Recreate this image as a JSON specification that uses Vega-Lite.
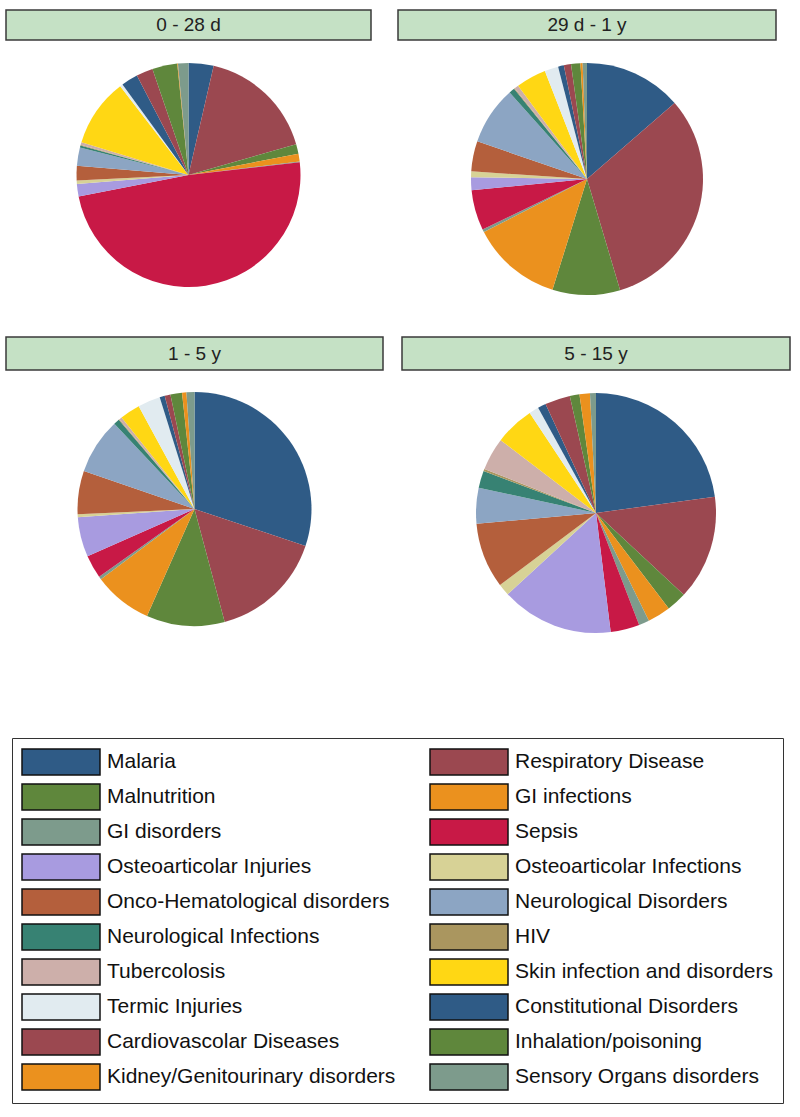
{
  "$schema": "https://vega.github.io/schema/vega-lite/v6.json",
  "background": "white",
  "padding": {"left": 5, "top": 9, "right": 0, "bottom": 0},
  "datasets": {
    "pie": [
      {"age": "0 - 28 d", "cause": "Malaria", "idx": 1, "pct": 3.6},
      {"age": "0 - 28 d", "cause": "Respiratory Disease", "idx": 2, "pct": 16.9},
      {"age": "0 - 28 d", "cause": "Malnutrition", "idx": 3, "pct": 1.4},
      {"age": "0 - 28 d", "cause": "GI infections", "idx": 4, "pct": 1.1},
      {"age": "0 - 28 d", "cause": "GI disorders", "idx": 5, "pct": 0.1},
      {"age": "0 - 28 d", "cause": "Sepsis", "idx": 6, "pct": 48.6},
      {"age": "0 - 28 d", "cause": "Osteoarticolar Injuries", "idx": 7, "pct": 1.8},
      {"age": "0 - 28 d", "cause": "Osteoarticolar Infections", "idx": 8, "pct": 0.5},
      {"age": "0 - 28 d", "cause": "Onco-Hematological disorders", "idx": 9, "pct": 2.1},
      {"age": "0 - 28 d", "cause": "Neurological Disorders", "idx": 10, "pct": 2.6},
      {"age": "0 - 28 d", "cause": "Neurological Infections", "idx": 11, "pct": 0.3},
      {"age": "0 - 28 d", "cause": "HIV", "idx": 12, "pct": 0.1},
      {"age": "0 - 28 d", "cause": "Tubercolosis", "idx": 13, "pct": 0.4},
      {"age": "0 - 28 d", "cause": "Skin infection and disorders", "idx": 14, "pct": 9.8},
      {"age": "0 - 28 d", "cause": "Termic Injuries", "idx": 15, "pct": 0.4},
      {"age": "0 - 28 d", "cause": "Constitutional Disorders", "idx": 16, "pct": 2.4},
      {"age": "0 - 28 d", "cause": "Cardiovascolar Diseases", "idx": 17, "pct": 2.4},
      {"age": "0 - 28 d", "cause": "Inhalation/poisoning", "idx": 18, "pct": 3.6},
      {"age": "0 - 28 d", "cause": "Kidney/Genitourinary disorders", "idx": 19, "pct": 0.1},
      {"age": "0 - 28 d", "cause": "Sensory Organs disorders", "idx": 20, "pct": 1.5},

      {"age": "29 d - 1 y", "cause": "Malaria", "idx": 1, "pct": 13.6},
      {"age": "29 d - 1 y", "cause": "Respiratory Disease", "idx": 2, "pct": 31.7},
      {"age": "29 d - 1 y", "cause": "Malnutrition", "idx": 3, "pct": 9.4},
      {"age": "29 d - 1 y", "cause": "GI infections", "idx": 4, "pct": 12.6},
      {"age": "29 d - 1 y", "cause": "GI disorders", "idx": 5, "pct": 0.4},
      {"age": "29 d - 1 y", "cause": "Sepsis", "idx": 6, "pct": 5.6},
      {"age": "29 d - 1 y", "cause": "Osteoarticolar Injuries", "idx": 7, "pct": 1.8},
      {"age": "29 d - 1 y", "cause": "Osteoarticolar Infections", "idx": 8, "pct": 0.8},
      {"age": "29 d - 1 y", "cause": "Onco-Hematological disorders", "idx": 9, "pct": 4.2},
      {"age": "29 d - 1 y", "cause": "Neurological Disorders", "idx": 10, "pct": 8.1},
      {"age": "29 d - 1 y", "cause": "Neurological Infections", "idx": 11, "pct": 0.8},
      {"age": "29 d - 1 y", "cause": "HIV", "idx": 12, "pct": 0.1},
      {"age": "29 d - 1 y", "cause": "Tubercolosis", "idx": 13, "pct": 0.6},
      {"age": "29 d - 1 y", "cause": "Skin infection and disorders", "idx": 14, "pct": 4.2},
      {"age": "29 d - 1 y", "cause": "Termic Injuries", "idx": 15, "pct": 1.9},
      {"age": "29 d - 1 y", "cause": "Constitutional Disorders", "idx": 16, "pct": 0.8},
      {"age": "29 d - 1 y", "cause": "Cardiovascolar Diseases", "idx": 17, "pct": 1.0},
      {"age": "29 d - 1 y", "cause": "Inhalation/poisoning", "idx": 18, "pct": 1.3},
      {"age": "29 d - 1 y", "cause": "Kidney/Genitourinary disorders", "idx": 19, "pct": 0.3},
      {"age": "29 d - 1 y", "cause": "Sensory Organs disorders", "idx": 20, "pct": 0.6},

      {"age": "1 - 5 y", "cause": "Malaria", "idx": 1, "pct": 30.1},
      {"age": "1 - 5 y", "cause": "Respiratory Disease", "idx": 2, "pct": 15.7},
      {"age": "1 - 5 y", "cause": "Malnutrition", "idx": 3, "pct": 10.8},
      {"age": "1 - 5 y", "cause": "GI infections", "idx": 4, "pct": 8.1},
      {"age": "1 - 5 y", "cause": "GI disorders", "idx": 5, "pct": 0.4},
      {"age": "1 - 5 y", "cause": "Sepsis", "idx": 6, "pct": 3.2},
      {"age": "1 - 5 y", "cause": "Osteoarticolar Injuries", "idx": 7, "pct": 5.5},
      {"age": "1 - 5 y", "cause": "Osteoarticolar Infections", "idx": 8, "pct": 0.4},
      {"age": "1 - 5 y", "cause": "Onco-Hematological disorders", "idx": 9, "pct": 6.0},
      {"age": "1 - 5 y", "cause": "Neurological Disorders", "idx": 10, "pct": 7.7},
      {"age": "1 - 5 y", "cause": "Neurological Infections", "idx": 11, "pct": 0.8},
      {"age": "1 - 5 y", "cause": "HIV", "idx": 12, "pct": 0.1},
      {"age": "1 - 5 y", "cause": "Tubercolosis", "idx": 13, "pct": 0.4},
      {"age": "1 - 5 y", "cause": "Skin infection and disorders", "idx": 14, "pct": 2.8},
      {"age": "1 - 5 y", "cause": "Termic Injuries", "idx": 15, "pct": 3.1},
      {"age": "1 - 5 y", "cause": "Constitutional Disorders", "idx": 16, "pct": 0.7},
      {"age": "1 - 5 y", "cause": "Cardiovascolar Diseases", "idx": 17, "pct": 0.8},
      {"age": "1 - 5 y", "cause": "Inhalation/poisoning", "idx": 18, "pct": 1.6},
      {"age": "1 - 5 y", "cause": "Kidney/Genitourinary disorders", "idx": 19, "pct": 0.6},
      {"age": "1 - 5 y", "cause": "Sensory Organs disorders", "idx": 20, "pct": 1.1},

      {"age": "5 - 15 y", "cause": "Malaria", "idx": 1, "pct": 22.8},
      {"age": "5 - 15 y", "cause": "Respiratory Disease", "idx": 2, "pct": 14.1},
      {"age": "5 - 15 y", "cause": "Malnutrition", "idx": 3, "pct": 2.7},
      {"age": "5 - 15 y", "cause": "GI infections", "idx": 4, "pct": 3.1},
      {"age": "5 - 15 y", "cause": "GI disorders", "idx": 5, "pct": 1.4},
      {"age": "5 - 15 y", "cause": "Sepsis", "idx": 6, "pct": 3.9},
      {"age": "5 - 15 y", "cause": "Osteoarticolar Injuries", "idx": 7, "pct": 15.1},
      {"age": "5 - 15 y", "cause": "Osteoarticolar Infections", "idx": 8, "pct": 1.6},
      {"age": "5 - 15 y", "cause": "Onco-Hematological disorders", "idx": 9, "pct": 8.8},
      {"age": "5 - 15 y", "cause": "Neurological Disorders", "idx": 10, "pct": 4.8},
      {"age": "5 - 15 y", "cause": "Neurological Infections", "idx": 11, "pct": 2.3},
      {"age": "5 - 15 y", "cause": "HIV", "idx": 12, "pct": 0.3},
      {"age": "5 - 15 y", "cause": "Tubercolosis", "idx": 13, "pct": 4.4},
      {"age": "5 - 15 y", "cause": "Skin infection and disorders", "idx": 14, "pct": 5.3},
      {"age": "5 - 15 y", "cause": "Termic Injuries", "idx": 15, "pct": 1.3},
      {"age": "5 - 15 y", "cause": "Constitutional Disorders", "idx": 16, "pct": 1.1},
      {"age": "5 - 15 y", "cause": "Cardiovascolar Diseases", "idx": 17, "pct": 3.4},
      {"age": "5 - 15 y", "cause": "Inhalation/poisoning", "idx": 18, "pct": 1.3},
      {"age": "5 - 15 y", "cause": "Kidney/Genitourinary disorders", "idx": 19, "pct": 1.4},
      {"age": "5 - 15 y", "cause": "Sensory Organs disorders", "idx": 20, "pct": 0.8}
    ]
  },
  "spacing": 19,
  "vconcat": [
    {
      "spacing": 25,
      "hconcat": [
        {
          "spacing": 0,
          "vconcat": [
            {
              "width": 365, "height": 30,
              "view": {"fill": "#C5E1C5", "stroke": "#3a3a3a", "strokeWidth": 1.5},
              "data": {"values": [{"label": "0 - 28 d"}]},
              "mark": {"type": "text", "font": "Liberation Sans", "fontSize": 19, "color": "#222"},
              "encoding": {"text": {"field": "label"}}
            },
            {
              "width": 365, "height": 268,
              "data": {"name": "pie"},
              "transform": [{"filter": "datum.age === '0 - 28 d'"}],
              "mark": {"type": "arc", "outerRadius": 112},
              "encoding": {
                "theta": {"field": "pct", "type": "quantitative", "stack": true},
                "order": {"field": "idx", "type": "quantitative"},
                "color": {"field": "cause", "type": "nominal"}
              }
            }
          ]
        },
        {
          "spacing": 0,
          "vconcat": [
            {
              "width": 378, "height": 30,
              "view": {"fill": "#C5E1C5", "stroke": "#3a3a3a", "strokeWidth": 1.5},
              "data": {"values": [{"label": "29 d - 1 y"}]},
              "mark": {"type": "text", "font": "Liberation Sans", "fontSize": 19, "color": "#222"},
              "encoding": {"text": {"field": "label"}}
            },
            {
              "width": 378, "height": 276,
              "data": {"name": "pie"},
              "transform": [{"filter": "datum.age === '29 d - 1 y'"}],
              "mark": {"type": "arc", "outerRadius": 116},
              "encoding": {
                "theta": {"field": "pct", "type": "quantitative", "stack": true},
                "order": {"field": "idx", "type": "quantitative"},
                "color": {"field": "cause", "type": "nominal"}
              }
            }
          ]
        }
      ]
    },
    {
      "spacing": 17,
      "hconcat": [
        {
          "spacing": 0,
          "vconcat": [
            {
              "width": 377, "height": 33,
              "view": {"fill": "#C5E1C5", "stroke": "#3a3a3a", "strokeWidth": 1.5},
              "data": {"values": [{"label": "1 - 5 y"}]},
              "mark": {"type": "text", "font": "Liberation Sans", "fontSize": 19, "color": "#222"},
              "encoding": {"text": {"field": "label"}}
            },
            {
              "width": 377, "height": 276,
              "data": {"name": "pie"},
              "transform": [{"filter": "datum.age === '1 - 5 y'"}],
              "mark": {"type": "arc", "outerRadius": 117},
              "encoding": {
                "theta": {"field": "pct", "type": "quantitative", "stack": true},
                "order": {"field": "idx", "type": "quantitative"},
                "color": {"field": "cause", "type": "nominal"}
              }
            }
          ]
        },
        {
          "spacing": 0,
          "vconcat": [
            {
              "width": 388, "height": 33,
              "view": {"fill": "#C5E1C5", "stroke": "#3a3a3a", "strokeWidth": 1.5},
              "data": {"values": [{"label": "5 - 15 y"}]},
              "mark": {"type": "text", "font": "Liberation Sans", "fontSize": 19, "color": "#222"},
              "encoding": {"text": {"field": "label"}}
            },
            {
              "width": 388, "height": 284,
              "data": {"name": "pie"},
              "transform": [{"filter": "datum.age === '5 - 15 y'"}],
              "mark": {"type": "arc", "outerRadius": 120},
              "encoding": {
                "theta": {"field": "pct", "type": "quantitative", "stack": true},
                "order": {"field": "idx", "type": "quantitative"},
                "color": {
                  "field": "cause", "type": "nominal",
                  "scale": {
                    "domain": ["Malaria", "Respiratory Disease", "Malnutrition", "GI infections", "GI disorders", "Sepsis", "Osteoarticolar Injuries", "Osteoarticolar Infections", "Onco-Hematological disorders", "Neurological Disorders", "Neurological Infections", "HIV", "Tubercolosis", "Skin infection and disorders", "Termic Injuries", "Constitutional Disorders", "Cardiovascolar Diseases", "Inhalation/poisoning", "Kidney/Genitourinary disorders", "Sensory Organs disorders"],
                    "range": ["#2F5B86", "#9B4850", "#5F873C", "#EB911E", "#7D9B8C", "#C81946", "#A89BE0", "#D7D296", "#B45F3C", "#8CA5C3", "#378273", "#AA965F", "#CDAFAA", "#FFD714", "#E1EBF0", "#2F5B86", "#9B4850", "#5F873C", "#EB911E", "#7D9B8C"]
                  },
                  "legend": {
                    "title": null,
                    "orient": "none",
                    "direction": "horizontal",
                    "legendX": 6,
                    "legendY": 728,
                    "columns": 2,
                    "columnPadding": 31,
                    "rowPadding": 3,
                    "padding": 10,
                    "strokeColor": "#333",
                    "fillColor": "white",
                    "symbolType": "M-3,-1H3V1H-3Z",
                    "symbolSize": 676,
                    "symbolStrokeColor": "#111",
                    "symbolStrokeWidth": 1.5,
                    "symbolOpacity": 1,
                    "symbolOffset": 25,
                    "labelOffset": 32,
                    "labelFont": "Liberation Sans",
                    "labelFontSize": 21,
                    "labelColor": "#111",
                    "labelLimit": 420,
                    "encode": {
                      "symbols": {
                        "update": {
                          "stroke": {"value": "#111"},
                          "strokeWidth": {"value": 1.5}
                        }
                      }
                    }
                  }
                }
              }
            }
          ]
        }
      ]
    }
  ],
  "config": {
    "view": {"stroke": null},
    "arc": {"stroke": null}
  }
}
